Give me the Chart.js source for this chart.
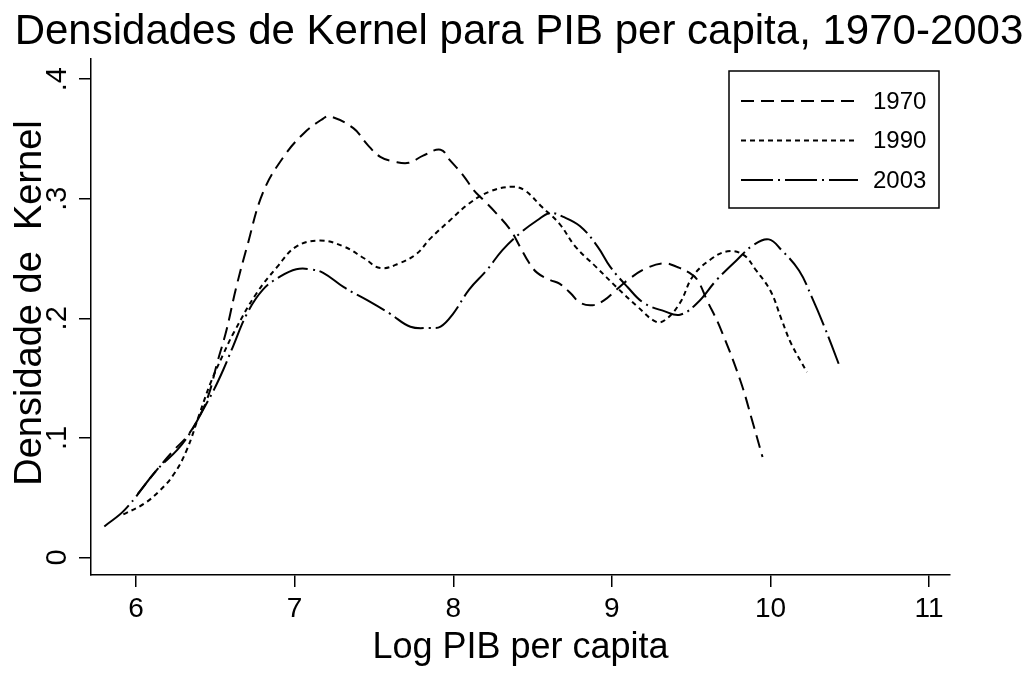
<!DOCTYPE html>
<html>
<head>
<meta charset="utf-8">
<script src="https://cdn.jsdelivr.net/npm/chart.js@4"></script>
<style>
  html, body { margin: 0; padding: 0; background: #fff; }
  #wrap { width: 1030px; height: 673px; }
</style>
</head>
<body>
<div id="wrap"><canvas id="myChart"></canvas></div>
<script>
// data
const years = ['1970', '1990', '2003'];

const x1970 = [6.01, 6.13, 6.24, 6.32, 6.40, 6.46, 6.51, 6.57, 6.63, 6.70, 6.80, 6.93, 7.06, 7.18, 7.22, 7.37, 7.46, 7.54, 7.63, 7.72, 7.81, 7.92, 7.98, 8.06, 8.13, 8.19, 8.27, 8.36, 8.42, 8.48, 8.53, 8.61, 8.67, 8.74, 8.80, 8.88, 8.95, 9.03, 9.11, 9.22, 9.33, 9.41, 9.49, 9.54, 9.60, 9.68, 9.81, 9.89, 9.95];
const y1970 = [0.053, 0.073, 0.090, 0.101, 0.118, 0.137, 0.162, 0.190, 0.225, 0.260, 0.305, 0.335, 0.355, 0.367, 0.369, 0.359, 0.345, 0.335, 0.331, 0.330, 0.336, 0.341, 0.332, 0.320, 0.307, 0.299, 0.288, 0.274, 0.260, 0.246, 0.238, 0.232, 0.229, 0.221, 0.213, 0.211, 0.215, 0.224, 0.233, 0.242, 0.246, 0.243, 0.238, 0.232, 0.215, 0.193, 0.148, 0.112, 0.084];

const x1990 = [5.92, 6.05, 6.15, 6.24, 6.32, 6.40, 6.47, 6.55, 6.62, 6.76, 6.89, 7.01, 7.16, 7.31, 7.44, 7.54, 7.66, 7.77, 7.85, 7.98, 8.10, 8.23, 8.37, 8.45, 8.56, 8.67, 8.77, 8.90, 9.03, 9.16, 9.28, 9.34, 9.43, 9.51, 9.62, 9.73, 9.83, 9.91, 10.00, 10.07, 10.13, 10.23];
const y1990 = [0.036, 0.045, 0.056, 0.070, 0.090, 0.120, 0.146, 0.170, 0.189, 0.221, 0.243, 0.260, 0.265, 0.260, 0.250, 0.242, 0.246, 0.254, 0.266, 0.282, 0.296, 0.306, 0.310, 0.307, 0.293, 0.279, 0.260, 0.243, 0.226, 0.210, 0.197, 0.199, 0.213, 0.235, 0.249, 0.256, 0.253, 0.240, 0.223, 0.199, 0.179, 0.155];

const x2003 = [5.80, 5.93, 6.13, 6.26, 6.34, 6.42, 6.49, 6.55, 6.61, 6.70, 6.80, 6.91, 7.01, 7.10, 7.18, 7.31, 7.46, 7.60, 7.73, 7.85, 7.92, 8.00, 8.10, 8.21, 8.31, 8.42, 8.53, 8.61, 8.69, 8.80, 8.91, 8.99, 9.10, 9.20, 9.33, 9.43, 9.54, 9.66, 9.79, 9.89, 9.99, 10.07, 10.18, 10.26, 10.34, 10.43];
const y2003 = [0.026, 0.040, 0.073, 0.090, 0.104, 0.123, 0.140, 0.157, 0.176, 0.204, 0.224, 0.235, 0.241, 0.241, 0.238, 0.226, 0.215, 0.204, 0.193, 0.192, 0.193, 0.204, 0.224, 0.240, 0.257, 0.271, 0.282, 0.288, 0.285, 0.277, 0.260, 0.243, 0.226, 0.213, 0.206, 0.203, 0.213, 0.232, 0.249, 0.261, 0.266, 0.257, 0.240, 0.218, 0.193, 0.162];

const xTicks = [6, 7, 8, 9, 10, 11];
const yTicks = [0, 0.1, 0.2, 0.3, 0.4];
const yTickLabels = ['0', '.1', '.2', '.3', '.4'];

const titleText = 'Densidades de Kernel para PIB per capita, 1970-2003';
const yTitleText = 'Densidade de  Kernel';

const FONT = '"Liberation Sans", Arial, Helvetica, sans-serif';
const dashes = [[13, 7], [5, 4], [32, 5, 2, 5]];

function pts(xs, ys) {
    return xs.map((x, i) => ({x: x, y: ys[i]}));
}

// title, rotated y labels + y title (Stata style), boxed legend
const stataBits = {
    id: 'stataBits',
    afterDraw(chart) {
        const ctx = chart.ctx;
        const ys = chart.scales.y;
        const area = chart.chartArea;
        ctx.save();
        ctx.fillStyle = '#000';

        // main title
        ctx.font = '42px ' + FONT;
        ctx.textAlign = 'center';
        ctx.textBaseline = 'alphabetic';
        ctx.fillText(titleText, 519, 44);

        // y tick labels, reading upward
        ctx.font = '29px ' + FONT;
        yTicks.forEach((v, i) => {
            ctx.save();
            ctx.translate(66, ys.getPixelForValue(v));
            ctx.rotate(-Math.PI / 2);
            ctx.fillText(yTickLabels[i], 0, 0);
            ctx.restore();
        });

        // y axis title
        ctx.save();
        ctx.font = '38px ' + FONT;
        ctx.translate(41, 303);
        ctx.rotate(-Math.PI / 2);
        ctx.fillText(yTitleText, 0, 0);
        ctx.restore();

        // legend
        const bx = area.right - 221, by = area.top + 12, bw = 210, bh = 137;
        ctx.lineWidth = 1.5;
        ctx.strokeStyle = '#000';
        ctx.setLineDash([]);
        ctx.strokeRect(bx, by, bw, bh);
        ctx.font = '24px ' + FONT;
        ctx.textAlign = 'left';
        ctx.textBaseline = 'middle';
        chart.data.datasets.forEach((ds, i) => {
            const ly = by + 30 + i * 39.5;
            ctx.beginPath();
            ctx.lineWidth = 2;
            ctx.setLineDash(ds.borderDash);
            ctx.moveTo(bx + 12, ly);
            ctx.lineTo(bx + 129, ly);
            ctx.stroke();
            ctx.setLineDash([]);
            ctx.fillText(ds.label, bx + 144, ly + 1);
        });
        ctx.restore();
    }
};

const config = {
    type: 'line',
    data: {
        datasets: [
            {label: years[0], data: pts(x1970, y1970), borderDash: dashes[0]},
            {label: years[1], data: pts(x1990, y1990), borderDash: dashes[1]},
            {label: years[2], data: pts(x2003, y2003), borderDash: dashes[2]}
        ].map(d => Object.assign(d, {
            borderColor: '#000',
            borderWidth: 2,
            pointRadius: 0,
            tension: 0.4,
            fill: false
        }))
    },
    options: {
        responsive: true,
        maintainAspectRatio: false,
        animation: false,
        layout: {padding: {left: 0, right: 80, top: 59, bottom: 0}},
        plugins: {
            legend: {display: false},
            tooltip: {enabled: false},
            title: {display: false}
        },
        scales: {
            x: {
                type: 'linear',
                min: 5.716,
                max: 11.132,
                afterBuildTicks: s => { s.ticks = xTicks.map(v => ({value: v})); },
                afterFit: s => { s.height = 98; },
                grid: {display: true, drawOnChartArea: false, drawTicks: true, tickLength: 12, color: '#000', lineWidth: 1.5},
                border: {display: true, color: '#000', width: 1.5},
                ticks: {color: '#000', padding: 5, font: {family: FONT, size: 28}, maxRotation: 0},
                title: {display: true, text: 'Log PIB per capita', color: '#000', font: {family: FONT, size: 36}, padding: {top: 0, bottom: 3}}
            },
            y: {
                type: 'linear',
                min: -0.0146,
                max: 0.4168,
                afterBuildTicks: s => { s.ticks = yTicks.map(v => ({value: v})); },
                afterFit: s => { s.width = 91; },
                grid: {display: true, drawOnChartArea: false, drawTicks: true, tickLength: 12, color: '#000', lineWidth: 1.5},
                border: {display: true, color: '#000', width: 1.5},
                ticks: {display: false},
                title: {display: false}
            }
        }
    },
    plugins: [stataBits]
};

const myChart = new Chart(
    document.getElementById('myChart').getContext('2d'),
    config
);
</script>
</body>
</html>
